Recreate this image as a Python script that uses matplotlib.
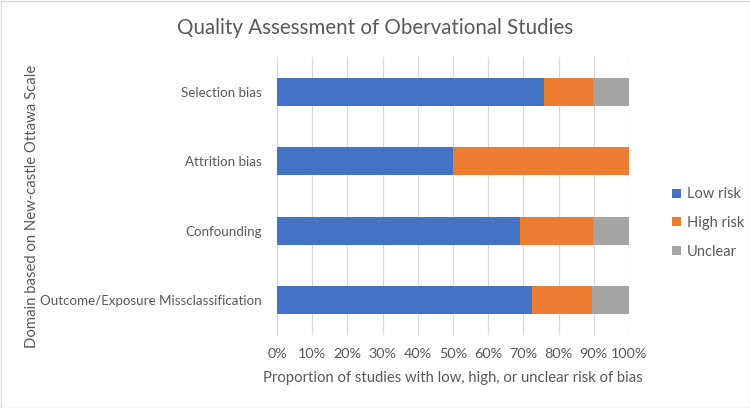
import matplotlib
matplotlib.use("Agg")
import matplotlib.pyplot as plt
from matplotlib.patches import Rectangle
from matplotlib.ticker import FuncFormatter

categories = ["Outcome/Exposure Missclassification", "Confounding", "Attrition bias", "Selection bias"]
low_risk = [72.4, 69.0, 50.0, 75.9]
high_risk = [17.2, 20.7, 50.0, 13.8]
unclear = [10.3, 10.3, 0.0, 10.3]
series_names = ["Low risk", "High risk", "Unclear"]
colors = ["#4472C4", "#ED7D31", "#A5A5A5"]
xticks = list(range(0, 101, 10))

plt.rcParams['font.family'] = ['Lato', 'DejaVu Sans']
txt = "#595959"

fig = plt.figure(figsize=(7.5, 4.08), dpi=100)
ax = fig.add_axes([277/750, 73/408, 352/750, 278/408])

y = list(range(len(categories)))
left = [0]*len(categories)
handles = []
for vals, name, c in zip([low_risk, high_risk, unclear], series_names, colors):
    b = ax.barh(y, vals, left=left, height=0.4, color=c, label=name, zorder=3)
    handles.append(b)
    left = [l + v for l, v in zip(left, vals)]

ax.set_xlim(0, 100)
ax.set_ylim(-0.5, len(categories) - 0.5)
ax.set_xticks(xticks)
ax.xaxis.set_major_formatter(FuncFormatter(lambda v, p: f"{int(v)}%"))
ax.set_yticks(y)
ax.set_yticklabels(categories)
ax.grid(axis='x', color="#D9D9D9", linewidth=0.9, zorder=0)
for s in ['top', 'right', 'bottom']:
    ax.spines[s].set_visible(False)
ax.spines['left'].set_color("#D9D9D9")
ax.tick_params(axis='both', length=0, colors=txt)
ax.tick_params(axis='x', pad=9, labelsize=10.4)
ax.tick_params(axis='y', pad=11, labelsize=9.6)

ax.set_xlabel("Proportion of studies with low, high, or unclear risk of bias", color=txt, fontsize=10.7, labelpad=8)
fig.text(32/750, 1 - 206/408, "Domain based on New-castle Ottawa Scale", rotation=90,
         ha='center', va='center', color=txt, fontsize=10.7)
fig.text(375/750, 1 - 28/408, "Quality Assessment of Obervational Studies", ha='center', va='center',
         color=txt, fontsize=14.8)

leg = fig.legend(handles, series_names, loc='center left', bbox_to_anchor=(659/750, 1 - 223/408),
                 frameon=False, fontsize=10.5, handlelength=0.6, handleheight=0.6,
                 handletextpad=0.4, labelspacing=1.0, labelcolor=txt)

fig.patches.append(Rectangle((0.5/750, 0.5/408), 749/750, 407/408, transform=fig.transFigure,
                             fill=False, edgecolor="#D9D9D9", linewidth=1))

fig.savefig("out.png", dpi=100)
